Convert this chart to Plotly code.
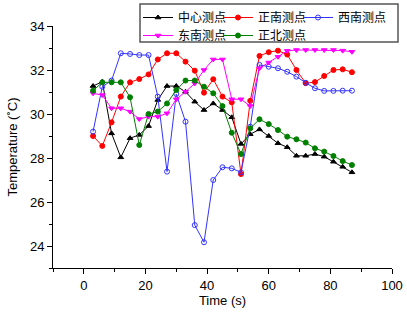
import plotly.graph_objects as go

time_s = [3, 6, 9, 12, 15, 18, 21, 24, 27, 30, 33, 36, 39, 42, 45, 48, 51, 54, 57,
          60, 63, 66, 69, 72, 75, 78, 81, 84, 87]

center = [31.27, 31.47, 29.12, 28.03, 28.90, 29.05, 29.45, 30.64, 31.27, 31.27,
          31.01, 30.56, 30.18, 30.48, 30.18, 29.85, 28.64, 29.08, 29.30,
          29.00, 28.67, 28.49, 28.10, 28.10, 28.18, 28.06, 27.83, 27.60, 27.35]

south = [29.00, 28.55, 29.62, 30.79, 31.44, 31.59, 31.80, 32.48, 32.76, 32.76,
         32.38, 31.97, 30.97, 31.58, 30.79, 30.53, 27.27, 30.60, 32.64,
         32.81, 32.88, 32.70, 32.00, 31.40, 31.45, 31.73, 32.00, 32.03, 31.90]

southwest = [29.20, 31.24, 31.52, 32.76, 32.73, 32.68, 32.68, 30.79, 27.38, 30.91,
             29.65, 24.95, 24.17, 27.00, 27.58, 27.53, 27.35, 29.42, 32.23,
             32.15, 32.08, 31.92, 31.70, 31.42, 31.17, 31.05, 31.05, 31.06, 31.06]

southeast = [30.94, 30.86, 30.26, 30.26, 30.11, 29.77, 29.88, 29.88, 30.03, 30.67,
             31.01, 31.39, 32.00, 32.48, 32.48, 30.67, 30.67, 30.36, 32.08,
             32.34, 32.60, 32.87, 32.91, 32.91, 32.91, 32.91, 32.91, 32.88, 32.83]

north = [31.06, 31.44, 31.44, 31.44, 30.76, 28.59, 30.00, 30.11, 30.48, 31.09,
         31.52, 31.52, 31.24, 30.94, 30.36, 29.15, 28.18, 29.35, 29.76,
         29.54, 29.27, 28.97, 28.85, 28.70, 28.44, 28.29, 28.09, 27.86, 27.68]

names = ["中心测点", "正南测点", "西南测点", "东南测点", "正北测点"]
series = [center, south, southwest, southeast, north]
colors = ["#000000", "#FF0000", "#3333FF", "#FF00FF", "#008000"]
symbols = ["triangle-up", "circle", "circle-open", "triangle-down", "circle"]

W, H = 407, 312
ML, MR, MT, MB = 53, 15, 3, 44
PW, PH = W - ML - MR, H - MT - MB


def px_x(p):
    return (p - ML) / PW


def px_y(p):
    return 1 - (p - MT) / PH


# legend slot (left pixel, top pixel) of each entry: 3 columns x 2 rows
slots = [(138, 3), (218, 3), (298, 3), (138, 21), (218, 21)]
legend_ids = ["legend", "legend2", "legend3", "legend4", "legend5"]

axis_font = dict(family="Liberation Sans, Arial, sans-serif", size=13, color="#000000")
leg_font = dict(family="Noto Sans CJK SC, sans-serif", size=12, color="#000000")

fig = go.Figure()
for nm, ys, c, s, lg in zip(names, series, colors, symbols, legend_ids):
    fig.add_trace(go.Scatter(
        x=time_s, y=ys, name=nm, mode="lines+markers", legend=lg,
        line=dict(color=c, width=1),
        marker=dict(symbol=s, size=5, color=c, line=dict(color=c, width=1)),
    ))

legends = {}
for lg, (lx, ly) in zip(legend_ids, slots):
    legends[lg] = dict(
        orientation="v", x=px_x(lx), y=px_y(ly), xanchor="left", yanchor="top",
        bgcolor="rgba(0,0,0,0)", borderwidth=0, font=leg_font,
    )

fig.update_layout(
    width=W, height=H,
    margin=dict(l=ML, r=MR, t=MT, b=MB),
    paper_bgcolor="white", plot_bgcolor="white",
    font=dict(family="Liberation Sans, Arial, Noto Sans CJK SC, sans-serif", size=13, color="#000000"),
    showlegend=True,
    shapes=[dict(
        type="rect", xref="paper", yref="paper",
        x0=px_x(140), x1=px_x(398), y0=px_y(42), y1=px_y(4),
        line=dict(color="#555555", width=1.5), fillcolor="white", layer="above",
    )],
    xaxis=dict(
        range=[-10, 100], tick0=0, dtick=20,
        showgrid=False, zeroline=False,
        showline=True, linecolor="#000000", linewidth=1,
        ticks="outside", ticklen=5, tickcolor="#000000",
        minor=dict(ticks="outside", ticklen=3, dtick=10, tick0=0, tickcolor="#000000", showgrid=False),
        tickfont=axis_font,
        title=dict(text="Time (s)", font=axis_font, standoff=4),
        automargin=False,
    ),
    yaxis=dict(
        domain=[0, 242 / PH],
        range=[23, 34], tick0=24, dtick=2,
        showgrid=False, zeroline=False,
        showline=True, linecolor="#000000", linewidth=1,
        ticks="outside", ticklen=5, tickcolor="#000000",
        minor=dict(ticks="outside", ticklen=3, dtick=1, tick0=23, tickcolor="#000000", showgrid=False),
        tickfont=axis_font,
        title=dict(text="Temperature (˚C)", font=axis_font, standoff=9),
        automargin=False,
    ),
    **legends,
)

fig.write_html("out.html", config={"displayModeBar": False},
               post_script="document.body.style.margin='0';")
